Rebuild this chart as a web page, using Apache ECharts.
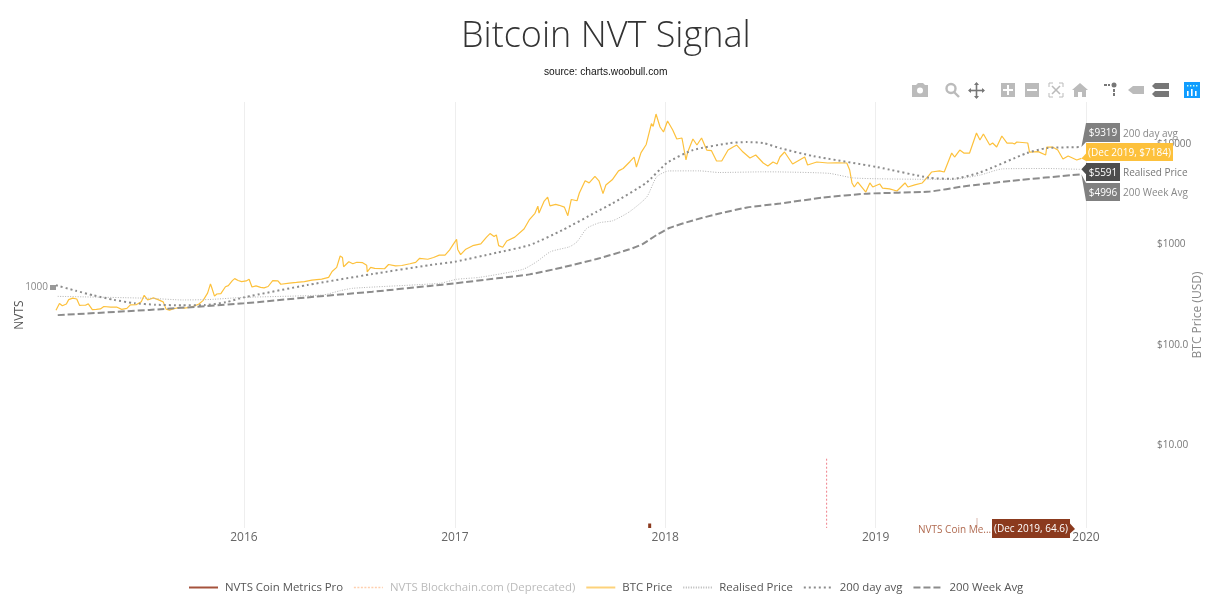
<!DOCTYPE html>
<html><head><meta charset="utf-8">
<style>html,body{margin:0;padding:0;background:#fff}#c{width:1214px;height:601px}</style>
<script src="https://cdn.jsdelivr.net/npm/echarts@6/dist/echarts.min.js"></script>
</head><body><div id="c"></div>
<script>
const yearTicks = ['2016-01-01','2017-01-01','2018-01-01','2019-01-01','2020-01-01'];
const priceTicks = [10,100,1000,10000];
const nvtsTicks = [1000];
const nvtsCoinMetrics = [['2017-12-05',68],['2017-12-05',64.6]];
const nvtsBlockchain = [['2018-10-08',142],['2018-10-08',64.6]];
const btcPrice = [
['2015-02-09',220],['2015-02-12',222],['2015-02-15',257],['2015-02-20',244],['2015-02-27',254],['2015-03-03',281],['2015-03-10',291],['2015-03-13',285],['2015-03-17',285],['2015-03-22',246],['2015-03-26',247],['2015-04-01',247],['2015-04-06',255],['2015-04-13',224],['2015-04-20',225],['2015-04-27',227],['2015-05-03',240],['2015-05-15',237],['2015-05-25',237],['2015-06-03',225],['2015-06-12',230],['2015-06-18',249],['2015-06-28',250],['2015-07-07',268],['2015-07-12',310],['2015-07-18',279],['2015-07-28',293],['2015-08-05',281],['2015-08-14',267],['2015-08-19',226],['2015-08-25',221],['2015-09-01',228],['2015-09-12',235],['2015-09-20',231],['2015-09-30',236],['2015-10-08',244],['2015-10-15',254],['2015-10-22',275],['2015-10-30',326],['2015-11-04',403],['2015-11-06',374],['2015-11-11',305],['2015-11-15',320],['2015-11-22',323],['2015-11-30',378],['2015-12-05',388],['2015-12-12',435],['2015-12-16',455],['2015-12-22',436],['2015-12-28',425],
['2016-01-05',432],['2016-01-10',448],['2016-01-15',376],['2016-01-18',392],['2016-01-22',385],['2016-01-30',372],['2016-02-05',368],['2016-02-12',380],['2016-02-20',434],['2016-02-29',432],['2016-03-05',400],['2016-03-20',411],['2016-04-01',417],['2016-04-15',425],['2016-04-28',440],['2016-05-01',458],['2016-05-15',450],['2016-05-27',468],['2016-06-02',537],['2016-06-10',590],['2016-06-16',765],['2016-06-20',740],['2016-06-22',598],['2016-07-01',671],['2016-07-08',640],['2016-07-15',663],['2016-07-25',656],['2016-08-01',620],['2016-08-02',531],['2016-08-08',590],['2016-08-15',575],['2016-09-01',571],['2016-09-08',630],['2016-09-20',610],['2016-10-01',615],['2016-10-15',640],['2016-10-25',660],['2016-11-01',726],['2016-11-15',710],['2016-11-25',740],['2016-12-05',781],['2016-12-15',780],['2016-12-23',880],['2016-12-28',975],
['2017-01-04',1120],['2017-01-06',890],['2017-01-11',790],['2017-01-20',895],['2017-02-01',970],['2017-02-15',1010],['2017-02-25',1180],['2017-03-03',1280],['2017-03-10',1195],['2017-03-14',1240],['2017-03-18',970],['2017-03-25',935],['2017-04-01',1080],['2017-04-15',1180],['2017-05-01',1420],['2017-05-10',1750],['2017-05-20',2040],['2017-05-25',2400],['2017-05-27',2050],['2017-06-05',2700],['2017-06-11',2950],['2017-06-15',2420],['2017-06-25',2500],['2017-07-01',2450],['2017-07-10',2350],['2017-07-16',1930],['2017-07-22',2800],['2017-08-01',2720],['2017-08-05',3250],['2017-08-15',4300],['2017-08-22',4100],['2017-09-01',4750],['2017-09-08',4300],['2017-09-15',3200],['2017-09-20',3900],['2017-10-01',4400],['2017-10-12',5400],['2017-10-20',5700],['2017-11-01',6700],['2017-11-08',7400],['2017-11-12',5900],['2017-11-20',8200],['2017-11-29',9900],['2017-12-08',16000],['2017-12-11',15000],['2017-12-16',19900],['2017-12-23',14770],['2017-12-29',13170],
['2018-01-05',16970],['2018-01-14',13790],['2018-01-21',11220],['2018-01-30',11480],['2018-02-06',6930],['2018-02-09',8320],['2018-02-18',11220],['2018-02-25',9770],['2018-03-05',11480],['2018-03-14',8710],['2018-03-22',8600],['2018-03-31',6770],['2018-04-09',6770],['2018-04-20',8710],['2018-04-28',9300],['2018-05-05',9770],['2018-05-16',8320],['2018-05-28',7250],['2018-06-07',7770],['2018-06-20',6470],['2018-06-28',6040],['2018-07-07',6620],['2018-07-14',6320],['2018-07-19',7420],['2018-07-27',8320],['2018-08-10',6320],['2018-08-31',7420],['2018-09-05',6180],['2018-09-21',6620],['2018-10-10',6470],['2018-10-25',6480],['2018-11-12',6470],['2018-11-17',5510],['2018-11-21',4090],['2018-11-25',3730],['2018-12-01',4180],['2018-12-15',3320],['2018-12-22',4090],['2018-12-27',3730],
['2019-01-08',4000],['2019-01-13',3640],['2019-01-25',3570],['2019-02-07',3400],['2019-02-21',4090],['2019-02-26',3730],['2019-03-10',3920],['2019-03-23',4090],['2019-04-01',4690],['2019-04-08',5260],['2019-04-22',5390],['2019-04-30',5260],['2019-05-13',8130],['2019-05-18',7420],['2019-05-27',8710],['2019-06-03',8130],['2019-06-13',8130],['2019-06-25',12870],['2019-07-01',10960],['2019-07-07',12570],['2019-07-18',9770],['2019-07-23',10230],['2019-07-30',9330],['2019-08-08',12020],['2019-08-17',10230],['2019-08-26',10230],['2019-08-30',10000],['2019-09-03',10470],['2019-09-22',10230],['2019-09-25',8320],['2019-10-10',8400],['2019-10-23',7770],['2019-10-25',9330],['2019-11-04',9330],['2019-11-13',8710],['2019-11-22',7090],['2019-12-01',7590],['2019-12-16',6930],['2019-12-24',7184]];
const realisedPrice = [['2015-02-12',303],['2015-07-21',290],['2015-09-17',279],['2015-11-02',282],['2016-01-01',296],['2016-05-17',313],['2016-06-16',345],['2016-07-08',365],['2016-12-06',409],['2017-01-04',448],['2017-02-13',469],['2017-04-29',563],['2017-05-23',671],['2017-06-16',845],['2017-07-19',946],['2017-08-01',1061],['2017-08-18',1445],['2017-09-09',1643],['2017-10-02',1720],['2017-10-31',2113],['2017-11-30',2966],['2017-12-17',4700],['2018-01-07',5390],['2018-03-01',5400],['2018-04-05',5200],['2018-06-20',5280],['2018-07-19',5270],['2018-10-12',5100],['2018-11-22',4600],['2019-01-08',4500],['2019-04-05',4450],['2019-05-15',4450],['2019-07-01',4900],['2019-08-09',5650],['2019-10-25',5700],['2019-12-24',5591]];
const avg200Day = [['2015-02-09',391],['2015-03-15',345],['2015-04-15',310],['2015-05-20',280],['2015-06-25',259],['2015-08-01',250],['2015-09-15',247],['2015-10-25',248],['2015-12-01',265],['2016-01-01',296],['2016-04-20',393],['2016-08-11',506],['2016-11-19',622],['2017-01-01',671],['2017-03-15',826],['2017-05-11',984],['2017-07-07',1390],['2017-09-04',2113],['2017-10-01',2550],['2017-11-29',4100],['2018-01-04',6470],['2018-02-18',8700],['2018-04-23',10200],['2018-05-23',10450],['2018-06-20',10230],['2018-07-19',9100],['2018-09-14',7600],['2019-01-03',5900],['2019-04-05',4600],['2019-05-15',4500],['2019-07-01',5200],['2019-09-20',8100],['2019-10-25',9100],['2019-12-24',9319]];
const avg200Week = [['2015-02-12',197],['2015-07-21',222],['2016-01-01',258],['2016-04-20',296],['2016-08-11',337],['2016-11-19',385],['2017-01-01',409],['2017-03-15',458],['2017-05-11',502],['2017-07-07',590],['2017-09-04',714],['2017-10-31',892],['2017-11-22',1001],['2017-12-17',1239],['2018-01-08',1455],['2018-02-18',1730],['2018-04-05',2030],['2018-05-23',2330],['2018-07-19',2550],['2018-10-01',2920],['2018-12-17',3200],['2019-04-05',3360],['2019-06-01',3770],['2019-08-26',4300],['2019-12-24',4996]];

const font = '"Open Sans"';
const ts = s => +new Date(s + 'T00:00:00Z');
const pts = a => a.map(p => [ts(p[0]), p[1]]);
const chart = echarts.init(document.getElementById('c'), null, {renderer:'canvas'});
const base = {type:'line', showSymbol:false, symbol:'none', animation:false, yAxisIndex:1, silent:true};
chart.setOption({
  animation:false,
  backgroundColor:'#fff',
  title:[
    {text:'Bitcoin NVT Signal',left:456,top:14,textStyle:{fontFamily:font,fontWeight:300,fontSize:36,color:'#333'}},
    {text:'source: charts.woobull.com',left:539,top:62,textStyle:{fontFamily:'"Liberation Sans"',fontWeight:'normal',fontSize:10.2,color:'#111'}}
  ],
  legend:{
    bottom:3,left:183,itemWidth:29,itemHeight:10,itemGap:10,
    itemStyle:{opacity:0},
    textStyle:{fontFamily:font,fontSize:11.4,color:'#555',padding:[0,0,0,2]},
    data:[
      {name:'NVTS Coin Metrics Pro',lineStyle:{color:'#a5523c',width:2}},
      {name:'NVTS Blockchain.com (Deprecated)',textStyle:{color:'#bbb'},lineStyle:{color:'#ffcfae',width:1.5,type:[2,1.5]}},
      {name:'BTC Price',lineStyle:{color:'#fdd27a',width:2}},{name:'Realised Price'},{name:'200 day avg'},{name:'200 Week Avg'}
    ]
  },
  grid:{left:56,right:128,top:102,bottom:73,outerBoundsMode:'none'},
  xAxis:{
    type:'value',min:ts('2015-02-09'),max:ts('2020-01-01'),
    axisLine:{show:false},
    axisTick:{show:false,customValues:yearTicks.map(ts)},
    axisLabel:{customValues:yearTicks.map(ts),margin:4,color:'#666',fontFamily:font,fontSize:12,showMinLabel:true,showMaxLabel:true,
      formatter:v=>String(new Date(v).getUTCFullYear())},
    splitLine:{show:true,lineStyle:{color:'#eee',width:1}}
  },
  yAxis:[
    {type:'log',logBase:10,min:64.6,max:8190,position:'left',
     name:'NVTS',nameLocation:'middle',nameGap:30,nameMoveOverlap:false,nameTextStyle:{fontFamily:font,fontSize:12,color:'#555'},
     axisLine:{show:false},splitLine:{show:false},
     axisTick:{show:true,customValues:nvtsTicks,length:6,inside:false,lineStyle:{width:5,color:'#999'}},
     axisLabel:{customValues:nvtsTicks,margin:8,color:'#888',fontFamily:font,fontSize:10,formatter:v=>String(Math.round(v))}},
    {type:'log',logBase:10,min:1.488,max:26230,position:'right',
     name:'BTC Price (USD)',nameLocation:'middle',nameGap:106,nameRotate:90,nameMoveOverlap:false,nameTextStyle:{fontFamily:font,fontSize:12,color:'#888'},
     axisLine:{show:false},splitLine:{show:false},axisTick:{show:false,customValues:priceTicks},
     axisLabel:{customValues:priceTicks,margin:71,color:'#777',fontFamily:font,fontSize:10,align:'left',
       formatter:v=>{v=Math.round(v);return v>=1000?'$'+v:'$'+v.toPrecision(4);}}}
  ],
  series:[
    {...base,name:'NVTS Coin Metrics Pro',yAxisIndex:0,data:pts(nvtsCoinMetrics),lineStyle:{color:'#8b3a1e',width:3},itemStyle:{color:'#a0523a'}},
    {...base,name:'NVTS Blockchain.com (Deprecated)',yAxisIndex:0,data:pts(nvtsBlockchain),lineStyle:{color:'#f0808a',width:1,type:[2,2]},itemStyle:{color:'#ffc9a8'}},
    {...base,name:'BTC Price',data:pts(btcPrice),lineStyle:{color:'#fdc13c',width:1.2},itemStyle:{color:'#fdc13c'}},
    {...base,name:'Realised Price',data:pts(realisedPrice),smooth:0.2,lineStyle:{color:'#b5b5b5',width:1,type:[1,1.5]},itemStyle:{color:'#aaa'}},
    {...base,name:'200 day avg',data:pts(avg200Day),smooth:0.2,lineStyle:{color:'#8c8c8c',width:2,type:[2,3]},itemStyle:{color:'#808080'}},
    {...base,name:'200 Week Avg',data:pts(avg200Week),smooth:0.2,lineStyle:{color:'#8c8c8c',width:2,type:[7,3]},itemStyle:{color:'#808080'}}
  ]
});

const P = (d,v,ax) => chart.convertToPixel({xAxisIndex:0,yAxisIndex:ax||1},[ts(d),v]);
const G = [];
function callout(anchor, x0, x1, y0, y1, color, text, side){
  let pts_;
  if (side==='right') pts_=[[x0,y0],[x1,y0],[x1,(y0+y1)/2-5],anchor,[x1,(y0+y1)/2+5],[x1,y1],[x0,y1]];
  else if (anchor[1]>y1) pts_=[[x0,y0],[x1,y0],[x1,y1],[x0,y1],anchor];
  else if (anchor[1]<y0) pts_=[[x0,y0],[x1,y0],[x1,y1],[x0,y1],anchor];
  else pts_=[[x0,y0],[x1,y0],[x1,y1],[x0,y1],[x0,Math.min(y1,anchor[1]+5)],anchor,[x0,Math.max(y0,anchor[1]-5)]];
  G.push({type:'polygon',z:50,silent:true,shape:{points:pts_},style:{fill:color}});
  G.push({type:'text',z:51,silent:true,x:(x0+x1)/2,y:(y0+y1)/2+1,style:{text,fill:'#fff',font:'10px '+font,align:'center',verticalAlign:'middle'}});
}
const lab = (x,y,text,fill,sz) => G.push({type:'text',z:51,silent:true,x,y,style:{text,fill,font:(sz||10)+'px '+font,verticalAlign:'middle'}});
const last = a => a[a.length-1];
const aD=P(...last(avg200Day)), aB=P(...last(btcPrice)), aR=P(...last(realisedPrice)), aW=P(...last(avg200Week));
callout(aD,1086,1120,123,142,'#808080','$'+last(avg200Day)[1]); lab(1123,134,'200 day avg','#888');
callout(aB,1086,1173,143,161,'#fdc13c','(Dec 2019, $'+last(btcPrice)[1]+')');
callout(aR,1086,1120,163,181,'#4d4d4d','$'+last(realisedPrice)[1]); lab(1123,173,'Realised Price','#777');
callout(aW,1086,1120,183,201,'#808080','$'+last(avg200Week)[1]); lab(1123,193,'200 Week Avg','#888');
const aN=[1075,529];
callout(aN,992,1070,519,538,'#8b3a1e','(Dec 2019, 64.6)','right');
lab(918,530,'NVTS Coin Me...','#b06a50');
G.push({type:'line',z:49,silent:true,shape:{x1:977,y1:518,x2:977,y2:528},style:{stroke:'#e6cfc8',lineWidth:1.5}});

// modebar icons
const c1='#bbb', c2='#777';
const poly=(points,fill,z)=>G.push({type:'polygon',z:z||60,silent:true,shape:{points},style:{fill}});
const rect=(x,y,width,height,fill,z)=>G.push({type:'rect',z:z||60,silent:true,shape:{x,y,width,height},style:{fill}});
const seg=(x1,y1,x2,y2,stroke,lineWidth)=>G.push({type:'line',z:60,silent:true,shape:{x1,y1,x2,y2},style:{stroke,lineWidth}});
poly([[912,85],[916,85],[918,83],[923,83],[925,85],[928,85],[928,97],[912,97]],c1);
G.push({type:'circle',z:61,silent:true,shape:{cx:920,cy:90.5,r:3},style:{fill:'#fff'}});
G.push({type:'circle',z:60,silent:true,shape:{cx:951,cy:88.5,r:4.5},style:{fill:'none',stroke:c1,lineWidth:2.4}});
seg(954,92,959,97,c1,2.4);
seg(969,90.5,984,90.5,c2,1.6); seg(976.5,83,976.5,98,c2,1.6);
poly([[976.5,82],[979,85],[974,85]],c2); poly([[976.5,99],[979,96],[974,96]],c2);
poly([[968,90.5],[971,88],[971,93]],c2); poly([[985,90.5],[982,88],[982,93]],c2);
rect(1001,83,14,14,c1); rect(1003,89,10,2,'#fff',61); rect(1007,85,2,10,'#fff',61);
rect(1025,83,14,14,c1); rect(1027,89,10,2,'#fff',61);
[[1049,83,1,1],[1063,83,-1,1],[1049,97,1,-1],[1063,97,-1,-1]].forEach(([x,y,a,b])=>{seg(x,y,x+4*a,y,c1,1);seg(x,y,x,y+4*b,c1,1);});
seg(1052,86,1060,94,c1,1.6); seg(1060,86,1052,94,c1,1.6);
poly([[1080,83],[1088,90],[1086,90],[1086,97],[1082,97],[1082,92],[1078,92],[1078,97],[1074,97],[1074,90],[1072,90]],c1);
G.push({type:'circle',z:60,silent:true,shape:{cx:1114,cy:85,r:2.5},style:{fill:c2}});
rect(1104,84,3,2,c2); rect(1108,84,2,2,c2); rect(1113,89,2,3,c2); rect(1113,93,2,3,c2);
poly([[1128,90],[1133,86],[1144,86],[1144,94],[1133,94]],c1);
poly([[1155,83],[1169,83],[1169,89],[1155,89],[1152,86]],c2);
poly([[1155,91],[1169,91],[1169,97],[1155,97],[1152,94]],c2);
rect(1184,82,16,16,'#119dff');
[[1187,91,5],[1191,89,7],[1195,91,5]].forEach(b=>rect(b[0],b[1],1.6,b[2],'#fff',61));
[1187,1190,1193,1196].forEach(x=>rect(x,85,1.4,1.4,'#cfe',61));
chart.setOption({graphic:{elements:G}});
</script></body></html>
